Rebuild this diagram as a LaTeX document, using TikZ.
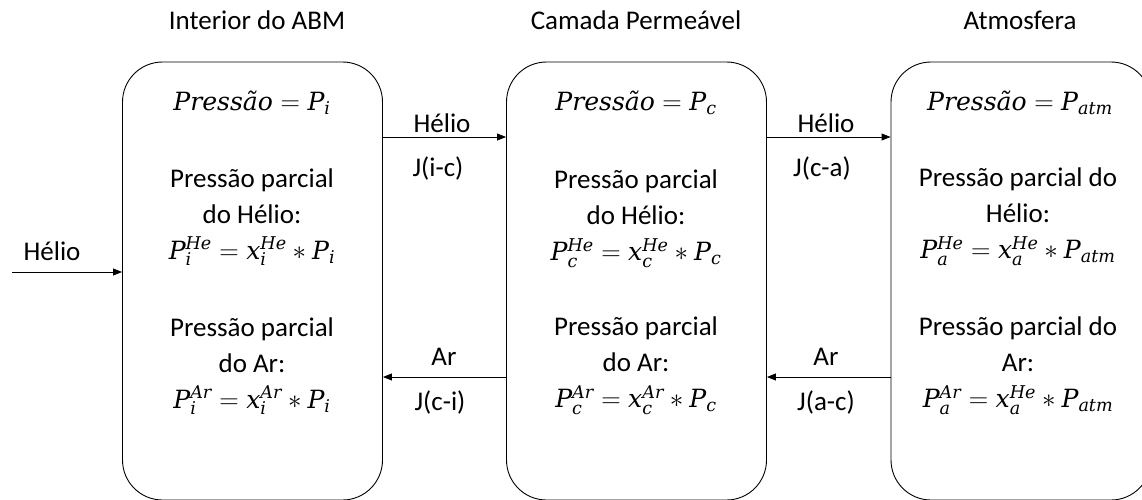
\RequirePackage{fix-cm}
\documentclass[tikz,border=0pt]{standalone}
\usepackage{fontspec}
\setmainfont{Carlito}
% heavier italic letters for the formulas
\newfontfamily\formulafont[NFSSFamily=mletters, Scale=0.93]{DejaVu Serif}
\DeclareSymbolFont{letters}{TU}{mletters}{m}{it}
\newcommand{\atil}{\mbox{\formulafont\itshape ã}}
\usetikzlibrary{arrows.meta}

\tikzset{
  chamber/.style={draw, line width=0.9pt, rounded corners=40pt,
    minimum width=260pt, minimum height=438pt, inner sep=0pt},
  txt/.style={align=center, inner sep=0pt,
    font=\fontsize{27}{36}\selectfont},
  flow/.style={line width=0.9pt, -{Triangle[length=9pt,width=7pt]}},
}

\begin{document}
\begin{tikzpicture}[x=1pt, y=-1pt]
\useasboundingbox (0,0) rectangle (1142,499);
\clip (0,0) rectangle (1142,499);

% the three compartments
\node[chamber] (b1) at (252.5,281) {};
\node[chamber] (b2) at (636.5,281) {};
\node[chamber] (b3) at (1021,281) {};

% headings
\node[txt] (h1) at (257,20) {Interior do ABM};
\node[txt] (h2) at (636,20) {Camada Permeável};
\node[txt] (h3) at (1020,20) {Atmosfera};

% interior
\node[txt] (p1) at (252,103) {$Press\atil o = P_i$};
\node[txt] (he1) at (252,217) {Pressão parcial\\do Hélio:\\$P_i^{He} = x_i^{He} \ast P_i$};
\node[txt] (ar1) at (252,366) {Pressão parcial\\do Ar:\\$P_i^{Ar} = x_i^{Ar} \ast P_i$};

% permeable layer
\node[txt] (p2) at (636,103) {$Press\atil o = P_c$};
\node[txt] (he2) at (636,219) {Pressão parcial\\do Hélio:\\$P_c^{He} = x_c^{He} \ast P_c$};
\node[txt] (ar2) at (636,366) {Pressão parcial\\do Ar:\\$P_c^{Ar} = x_c^{Ar} \ast P_c$};

% atmosphere
\node[txt] (p3) at (1020,103) {$Press\atil o = P_{atm}$};
\node[txt] (he3) at (1018,217) {Pressão parcial do\\Hélio:\\$P_a^{He} = x_a^{He} \ast P_{atm}$};
\node[txt] (ar3) at (1018,366) {Pressão parcial do\\Ar:\\$P_a^{Ar} = x_a^{He} \ast P_{atm}$};

% helium inlet
\coordinate (in) at (12,272);
\draw[flow] (in) -- (in -| b1.west);
\node[txt] (lin) at (52,251) {Hélio};

% helium flows
\draw[flow] (b1.east |- 0,137) -- (b2.west |- 0,137);
\node[txt] (l1a) at (442,123) {Hélio};
\node[txt] (l1b) at (438,168) {J(i-c)};
\draw[flow] (b2.east |- 0,137) -- (b3.west |- 0,137);
\node[txt] (l2a) at (826,123) {Hélio};
\node[txt] (l2b) at (822,168) {J(c-a)};

% argon flows
\draw[flow] (b2.west |- 0,377) -- (b1.east |- 0,377);
\node[txt] (l3a) at (444,357) {Ar};
\node[txt] (l3b) at (440,402) {J(c-i)};
\draw[flow] (b3.west |- 0,377) -- (b2.east |- 0,377);
\node[txt] (l4a) at (826,357) {Ar};
\node[txt] (l4b) at (826,402) {J(a-c)};
\end{tikzpicture}
\end{document}
